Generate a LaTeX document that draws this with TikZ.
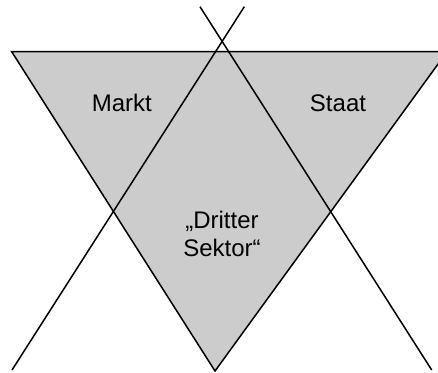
\documentclass[tikz,border=0pt]{standalone}
\usepackage{fontspec}
\setmainfont{Liberation Sans}
\definecolor{sectorgray}{RGB}{204,204,204}
\begin{document}
\begin{tikzpicture}[x=1bp,y=-1bp,
  edge/.style={line width=1.5bp, line join=miter, draw=black},
  field/.style={fill=sectorgray},
  sectorlabel/.style={font=\fontsize{24bp}{27.7bp}\selectfont, inner sep=0pt, anchor=base}]
\useasboundingbox (0,0) rectangle (438,372);
\clip (0,0) rectangle (438,372);

% corners of the inverted triangle (right corner lies past the frame)
\coordinate (tl) at (11.7,51.7);
\coordinate (tr) at (447,51.7);
\coordinate (bt) at (215,371);

% ends of the two crossing lines
\coordinate (a1) at (200,6.7);
\coordinate (a2) at (431.7,370);
\coordinate (b1) at (244.3,6.7);
\coordinate (b2) at (12,370);

\path[field, edge] (tl) -- (tr) -- (bt) -- cycle;
\draw[edge] (a1) -- (a2);
\draw[edge] (b1) -- (b2);

\node[sectorlabel] (markt) at (121.8,111.7) {Markt};
\node[sectorlabel] (staat) at (338,111.7) {Staat};
\node[sectorlabel] (dritter) at (222,228.3) {„Dritter};
\node[sectorlabel] (sektor) at (222,256) {Sektor“};
\end{tikzpicture}
\end{document}
